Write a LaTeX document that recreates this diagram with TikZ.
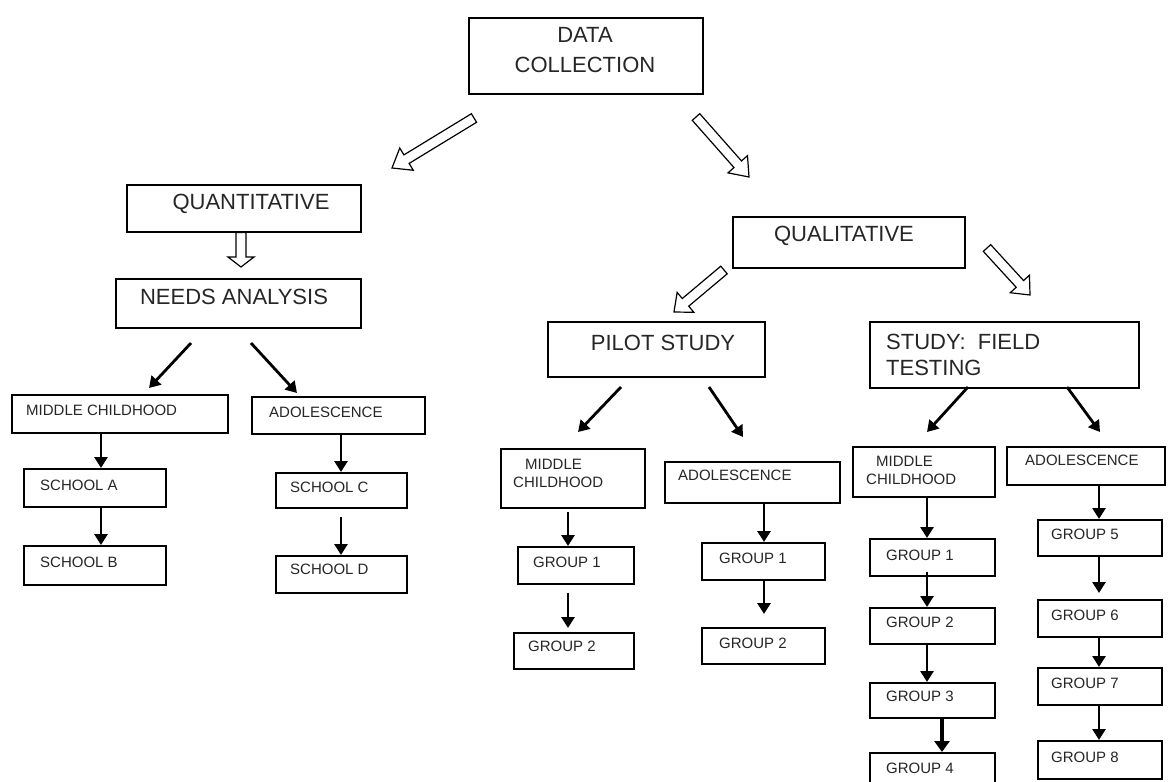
\documentclass[tikz,border=0pt]{standalone}
\usepackage{fontspec}
\setmainfont{Liberation Sans}
\usetikzlibrary{calc,arrows.meta}
\tikzset{
  box/.style={draw=black, line width=1.5pt, fill=white, inner sep=0pt, anchor=north west},
  big/.style={font=\fontsize{22}{30}\selectfont, text=black!85, inner sep=0pt},
  small/.style={font=\fontsize{15}{18}\selectfont, text=black!85, inner sep=0pt},
  arr/.style={line width=2.8pt, -{Triangle[length=11pt,width=13pt]}},
  thickarr/.style={line width=4.5pt, -{Triangle[length=11pt,width=15pt]}},
  hollow/.style={draw=black, line width=1.2pt, fill=white, line join=miter},
}
\newcommand\bx[5]{\node[box, minimum width=#4pt-#2pt, minimum height=#5pt-#3pt] (#1) at (#2,#3) {};}
% #1 tail, #2 tip, #3 shaft half width, #4 head half width, #5 head length
\newcommand\harrow[5]{%
  \draw[hollow] let \p1=($(#2)-(#1)$), \n1={atan2(\y1,\x1)}, \n2={veclen(\x1,\y1)-#5} in
  ($(#1)+(\n1+90:#3pt)$) -- ++(\n1:\n2) -- ++(\n1+90:#4pt-#3pt) -- (#2)
  -- ($(#1)+(\n1:\n2)+(\n1-90:#4pt)$) -- ++(\n1+90:#4pt-#3pt) -- ($(#1)+(\n1-90:#3pt)$) -- cycle;}
\begin{document}
\begin{tikzpicture}[x=1pt,y=-1pt]
\useasboundingbox[fill=white] (0,0) rectangle (1168,782);
% boxes
\bx{dc}{468}{17}{702}{93}
\bx{quant}{126}{184}{360}{231}
\bx{needs}{115}{278}{360}{327}
\bx{mcQ}{11}{394}{227}{432}
\bx{sA}{23}{468}{165}{506}
\bx{sB}{23}{545}{165}{584}
\bx{adQ}{251}{396}{424}{433}
\bx{sC}{275}{472}{406}{507}
\bx{sD}{275}{555}{406}{592}
\bx{qual}{732}{216}{964}{267}
\bx{pilot}{547}{321}{764}{376}
\bx{field}{869}{321}{1138}{387}
\bx{mcP}{500}{448}{644}{507}
\bx{gPa}{517}{546}{633}{583}
\bx{gPb}{513}{632}{633}{668}
\bx{adP}{664}{461}{839}{502}
\bx{gPc}{701}{542}{824}{579}
\bx{gPd}{701}{627}{824}{663}
\bx{mcF}{852}{446}{994}{496}
\bx{adF}{1006}{446}{1164}{484}
\bx{gF1}{869}{538}{994}{575}
\bx{gF2}{869}{607}{994}{643}
\bx{gF3}{869}{682}{994}{717}
\bx{gF4}{869}{752}{994}{800}
\bx{gF5}{1037}{519}{1161}{555}
\bx{gF6}{1037}{599}{1161}{636}
\bx{gF7}{1037}{667}{1161}{704}
\bx{gF8}{1037}{740}{1161}{778}
% texts
\node[big, align=center] (dct) at (585,50) {DATA\\COLLECTION};
\node[big] (quantt) at (251,204) {QUANTITATIVE};
\node[big] (needst) at (234,297) {NEEDS ANALYSIS};
\node[big] (qualt) at (844,236) {QUALITATIVE};
\node[big] (pilott) at (663,343) {PILOT STUDY};
\node[big, align=left, font=\fontsize{22}{26}\selectfont, anchor=west] (fieldt) at (886,355) {STUDY:~~FIELD\\TESTING};
\node[small, anchor=west] (mcQt) at (26,410) {MIDDLE CHILDHOOD};
\node[small, anchor=west] (sAt) at (40,485) {SCHOOL A};
\node[small, anchor=west] (sBt) at (40,562) {SCHOOL B};
\node[small, anchor=west] (adQt) at (269,412) {ADOLESCENCE};
\node[small, anchor=west] (sCt) at (290,487) {SCHOOL C};
\node[small, anchor=west] (sDt) at (290,569) {SCHOOL D};
\node[small, anchor=west, align=left] (mcPt) at (513,473) {\hspace*{12pt}MIDDLE\\CHILDHOOD};
\node[small, anchor=west] (gPat) at (533,562) {GROUP 1};
\node[small, anchor=west] (gPbt) at (528,646) {GROUP 2};
\node[small, anchor=west] (adPt) at (678,475) {ADOLESCENCE};
\node[small, anchor=west] (gPct) at (719,558) {GROUP 1};
\node[small, anchor=west] (gPdt) at (719,643) {GROUP 2};
\node[small, anchor=west, align=left] (mcFt) at (866,470) {\hspace*{10pt}MIDDLE\\CHILDHOOD};
\node[small, anchor=west] (adFt) at (1025,460) {ADOLESCENCE};
\node[small, anchor=west] (gF1t) at (886,555) {GROUP 1};
\node[small, anchor=west] (gF2t) at (886,622) {GROUP 2};
\node[small, anchor=west] (gF3t) at (886,696) {GROUP 3};
\node[small, anchor=west] (gF4t) at (886,768) {GROUP 4};
\node[small, anchor=west] (gF5t) at (1051,534) {GROUP 5};
\node[small, anchor=west] (gF6t) at (1051,615) {GROUP 6};
\node[small, anchor=west] (gF7t) at (1051,683) {GROUP 7};
\node[small, anchor=west] (gF8t) at (1051,757) {GROUP 8};
% hollow arrows
\coordinate (h1a) at (474,118); \coordinate (h1b) at (392,168);
\coordinate (h2a) at (696,117); \coordinate (h2b) at (749,177);
\coordinate (h3a) at (quant.south -| 241,0); \coordinate (h3b) at (241,267);
\coordinate (h4a) at (724,270); \coordinate (h4b) at (674,312);
\coordinate (h5a) at (987,248); \coordinate (h5b) at (1030,295);
\harrow{h1a}{h1b}{5}{13}{17}
\harrow{h2a}{h2b}{5}{13}{17}
\harrow{h3a}{h3b}{5}{13}{10}
\harrow{h4a}{h4b}{5}{13}{15}
\harrow{h5a}{h5b}{5}{13}{15}
% diagonal black arrows
\coordinate (d1a) at (191,343); \coordinate (d1b) at (149,388);
\coordinate (d2a) at (251,343); \coordinate (d2b) at (297,393);
\coordinate (d3a) at (621,387); \coordinate (d3b) at (578,432);
\coordinate (d4a) at (709,387); \coordinate (d4b) at (743,437);
\coordinate (d5a) at (968,387); \coordinate (d5b) at (927,432);
\coordinate (d6a) at (1067,387); \coordinate (d6b) at (1100,432);
\foreach \i in {1,...,6} {\draw[arr] (d\i a) -- (d\i b);}
% vertical arrows
\draw[arr] (mcQ.south -| 101,0) -- (sA.north -| 101,0);
\draw[arr] (sA.south -| 101,0) -- (sB.north -| 101,0);
\draw[arr] (adQ.south -| 341,0) -- (sC.north -| 341,0);
\draw[arr, shorten <=8pt] (sC.south -| 341,0) -- (sD.north -| 341,0);
\draw[arr, shorten <=3pt] (mcP.south -| 568,0) -- (gPa.north -| 568,0);
\draw[arr, shorten <=8pt, shorten >=4pt] (gPa.south -| 568,0) -- (gPb.north -| 568,0);
\draw[arr] (adP.south -| 764,0) -- (gPc.north -| 764,0);
\draw[arr, shorten >=13pt] (gPc.south -| 764,0) -- (gPd.north -| 764,0);
\draw[arr] (mcF.south -| 927,0) -- (gF1.north -| 927,0);
\draw[arr, shorten <=-5pt] (gF1.south -| 927,0) -- (gF2.north -| 927,0);
\draw[arr] (gF2.south -| 927,0) -- (gF3.north -| 927,0);
\draw[thickarr] (gF3.south -| 942,0) -- (gF4.north -| 942,0);
\draw[arr] (adF.south -| 1099,0) -- (gF5.north -| 1099,0);
\draw[arr, shorten >=6pt] (gF5.south -| 1099,0) -- (gF6.north -| 1099,0);
\draw[arr] (gF6.south -| 1099,0) -- (gF7.north -| 1099,0);
\draw[arr] (gF7.south -| 1099,0) -- (gF8.north -| 1099,0);
\end{tikzpicture}
\end{document}
